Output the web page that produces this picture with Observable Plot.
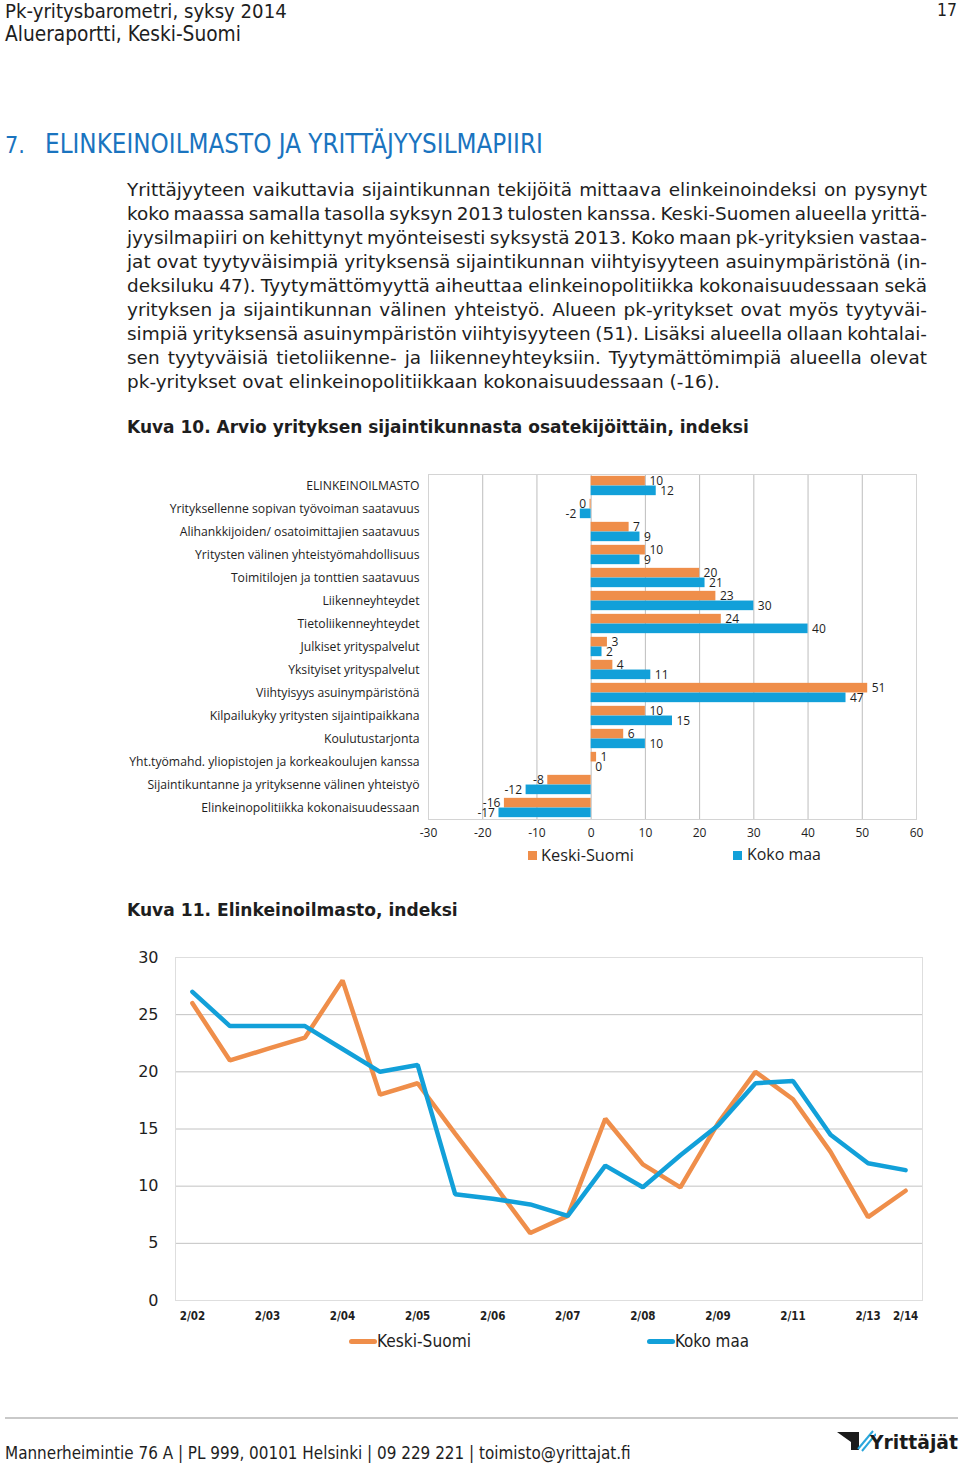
<!DOCTYPE html>
<html><head><meta charset="utf-8">
<script src="https://cdn.jsdelivr.net/npm/d3@7"></script>
<script src="https://cdn.jsdelivr.net/npm/@observablehq/plot@0.6"></script>
<style>
html,body{margin:0;padding:0;background:#fff;}
body{width:960px;height:1466px;position:relative;overflow:hidden;font-family:"DejaVu Sans",sans-serif;color:#1e1e1e;}
.chart{position:absolute;left:0;}
</style></head><body>
<script>
// ---------- DATA ----------
const barCategories = [
  "ELINKEINOILMASTO",
  "Yrityksellenne sopivan työvoiman saatavuus",
  "Alihankkijoiden/ osatoimittajien saatavuus",
  "Yritysten välinen yhteistyömahdollisuus",
  "Toimitilojen ja tonttien saatavuus",
  "Liikenneyhteydet",
  "Tietoliikenneyhteydet",
  "Julkiset yrityspalvelut",
  "Yksityiset yrityspalvelut",
  "Viihtyisyys asuinympäristönä",
  "Kilpailukyky yritysten sijaintipaikkana",
  "Koulutustarjonta",
  "Yht.työmahd. yliopistojen ja korkeakoulujen kanssa",
  "Sijaintikuntanne ja yrityksenne välinen yhteistyö",
  "Elinkeinopolitiikka kokonaisuudessaan"
];
const barKeskiSuomi = [10, -0.2, 7, 10, 20, 23, 24, 3, 4, 51, 10, 6, 1, -8, -16];
const barKokoMaa    = [12, -2, 9, 9, 21, 30, 40, 2, 11, 47, 15, 10, 0, -12, -17];
const barTicks = [-30, -20, -10, 0, 10, 20, 30, 40, 50, 60];

const linePeriods = ["2/02","9/02","2/03","9/03","2/04","9/04","2/05","9/05","2/06","9/06",
                     "2/07","9/07","2/08","9/08","2/09","9/09","2/11","9/11","2/13","2/14"];
const lineTickLabels = ["2/02","2/03","2/04","2/05","2/06","2/07","2/08","2/09","2/11","2/13","2/14"];
const lineKeskiSuomi = [26, 21, 22, 23, 28, 18, 19, 14.6, 10.3, 5.9, 7.4, 15.9, 11.9, 9.9, 15.5, 20, 17.6, 13, 7.3, 9.6];
const lineKokoMaa    = [27, 24, 24, 24, 22, 20, 20.6, 9.3, 8.9, 8.4, 7.4, 11.8, 9.9, 12.7, 15.3, 19.0, 19.2, 14.5, 12.0, 11.4];
const lineYTicks = [0, 5, 10, 15, 20, 25, 30];

const seriesNames = ["Keski-Suomi", "Koko maa"];
const ORANGE = "#ef8e4a", BLUE = "#12a0d9";

const bodyLines = [
  "Yrittäjyyteen vaikuttavia sijaintikunnan tekijöitä mittaava elinkeinoindeksi on pysynyt",
  "koko maassa samalla tasolla syksyn 2013 tulosten kanssa. Keski-Suomen alueella yrittä-",
  "jyysilmapiiri on kehittynyt myönteisesti syksystä 2013. Koko maan pk-yrityksien vastaa-",
  "jat ovat tyytyväisimpiä yrityksensä sijaintikunnan viihtyisyyteen asuinympäristönä (in-",
  "deksiluku 47). Tyytymättömyyttä aiheuttaa elinkeinopolitiikka kokonaisuudessaan sekä",
  "yrityksen ja sijaintikunnan välinen yhteistyö. Alueen pk-yritykset ovat myös tyytyväi-",
  "simpiä yrityksensä asuinympäristön viihtyisyyteen (51). Lisäksi alueella ollaan kohtalai-",
  "sen tyytyväisiä tietoliikenne- ja liikenneyhteyksiin. Tyytymättömimpiä alueella olevat",
  "pk-yritykset ovat elinkeinopolitiikkaan kokonaisuudessaan (-16)."
];

// ---------- TEXT HELPERS ----------
const page = document.body;
const COND = '"DejaVu Sans Condensed","Liberation Sans Narrow","DejaVu Sans",sans-serif';
const SANS = '"DejaVu Sans",sans-serif';
function place(text, {x, y, size = 16, family = SANS, weight = "normal", color = "#1e1e1e", fit, stretch = "normal"}) {
  const s = document.createElement("span");
  s.textContent = text;
  s.style.cssText = `position:absolute;white-space:nowrap;left:${x}px;font-family:${family};font-weight:${weight};color:${color};line-height:1;font-stretch:${stretch};`;
  s.style.fontSize = size + "px";
  page.appendChild(s);
  if (fit) {
    const w = s.getBoundingClientRect().width;
    size = size * fit / w;
    s.style.fontSize = size + "px";
  }
  s.style.top = (y - size * 0.52) + "px";
  return s;
}

// Header
place("Pk-yritysbarometri, syksy 2014", {x: 5, y: 11, size: 20, family: COND, stretch: "condensed", fit: 282});
place("Alueraportti, Keski-Suomi", {x: 5, y: 35, size: 20, family: COND, stretch: "condensed", fit: 236});
place("17", {x: 937, y: 11, size: 20, family: COND, stretch: "condensed", fit: 20});

// Heading
place("7.", {x: 5, y: 145, size: 22, family: COND, stretch: "condensed", color: "#1a74bf", fit: 20});
place("ELINKEINOILMASTO JA YRITTÄJYYSILMAPIIRI", {x: 45, y: 145, size: 22, family: COND, stretch: "condensed", color: "#1a74bf", fit: 498});

// Body paragraph (justified lines)
const BODY_W = 800;
const bodySpans = bodyLines.map((t, i) => place(t, {x: 127, y: 191 + 24 * i, size: 18}));
// size so the un-justified last line matches its width in the page (~593px)
const lastW = bodySpans[bodySpans.length - 1].getBoundingClientRect().width;
const BODY_SIZE = Math.min(18 * 593 / lastW, 18.6);
bodySpans.forEach((s, i) => {
  s.style.fontSize = BODY_SIZE + "px";
  s.style.top = (191 + 24 * i - BODY_SIZE * 0.52) + "px";
  if (i < bodySpans.length - 1) {
    const w = s.getBoundingClientRect().width;
    const spaces = (bodyLines[i].match(/ /g) || []).length;
    s.style.wordSpacing = ((BODY_W - w) / spaces) + "px";
  }
});

place("Kuva 10. Arvio yrityksen sijaintikunnasta osatekijöittäin, indeksi", {x: 127, y: 428, size: 18, weight: "bold", fit: 622});
place("Kuva 11. Elinkeinoilmasto, indeksi", {x: 127, y: 911, size: 18, weight: "bold", fit: 331});

// ---------- BAR CHART ----------
const barRows = barCategories.flatMap((c, i) => [
  {cat: c, series: seriesNames[0], value: barKeskiSuomi[i]},
  {cat: c, series: seriesNames[1], value: barKokoMaa[i]}
]);
const ksRows = barRows.filter(d => d.series === seriesNames[0]);
const kmRows = barRows.filter(d => d.series === seriesNames[1]);
const lbl = d => String(Math.round(d.value));
const LBL_FONT = 12;

const barChart = Plot.plot({
  width: 960, height: 380,
  marginLeft: 428, marginRight: 44, marginTop: 9, marginBottom: 26,
  style: {fontFamily: '"Open Sans",sans-serif', color: "#1e1e1e", background: "transparent", overflow: "visible"},
  x: {domain: [-30, 60]},
  y: {domain: barCategories, paddingInner: 0.16, paddingOuter: 0.08, round: false},
  marks: [
    Plot.ruleX(barTicks, {stroke: "#bdbdbd", strokeWidth: 1}),
    Plot.frame({stroke: "#d4d4d4"}),
    Plot.barX(ksRows, {x: "value", y: "cat", fill: ORANGE, insetBottom: 9.7}),
    Plot.barX(kmRows, {x: "value", y: "cat", fill: BLUE, insetTop: 9.7}),
    Plot.text(ksRows.filter(d => d.value >= 0), {x: "value", y: "cat", text: lbl, textAnchor: "start", dx: 4, dy: -5, fontSize: LBL_FONT, fill: "#1e1e1e"}),
    Plot.text(ksRows.filter(d => d.value < 0), {x: "value", y: "cat", text: lbl, textAnchor: "end", dx: -4, dy: -5, fontSize: LBL_FONT, fill: "#1e1e1e"}),
    Plot.text(kmRows.filter(d => d.value >= 0), {x: "value", y: "cat", text: lbl, textAnchor: "start", dx: 4, dy: 5, fontSize: LBL_FONT, fill: "#1e1e1e"}),
    Plot.text(kmRows.filter(d => d.value < 0), {x: "value", y: "cat", text: lbl, textAnchor: "end", dx: -4, dy: 5, fontSize: LBL_FONT, fill: "#1e1e1e"}),
    Plot.axisX({ticks: barTicks, tickSize: 0, tickPadding: 9, fontSize: 12, label: null, tickFormat: d => String(d)}),
    Plot.axisY({tickSize: 0, tickPadding: 9, fontSize: 12.2, label: null})
  ]
});
const barWrap = document.createElement("div");
barWrap.className = "chart";
barWrap.style.top = "465px";
barWrap.appendChild(barChart);
page.appendChild(barWrap);

// bar legend
function swatch(x, y, w, h, color, radius = 0) {
  const d = document.createElement("div");
  d.style.cssText = `position:absolute;left:${x}px;top:${y}px;width:${w}px;height:${h}px;background:${color};border-radius:${radius}px;`;
  page.appendChild(d);
}
swatch(528, 851, 9, 9, ORANGE);
place(seriesNames[0], {x: 541, y: 855, size: 16, family: '"Open Sans",sans-serif', fit: 93});
swatch(733, 851, 9, 9, BLUE);
place(seriesNames[1], {x: 747, y: 855, size: 16, family: '"Open Sans",sans-serif', fit: 74});

// ---------- LINE CHART ----------
const lineRows = linePeriods.flatMap((p, i) => [
  {period: p, series: seriesNames[0], value: lineKeskiSuomi[i]},
  {period: p, series: seriesNames[1], value: lineKokoMaa[i]}
]);
const lineChart = Plot.plot({
  width: 960, height: 385,
  marginLeft: 175, marginRight: 38, marginTop: 12, marginBottom: 30,
  style: {fontFamily: SANS, color: "#1e1e1e", background: "transparent", overflow: "visible"},
  x: {type: "point", domain: linePeriods, padding: 0.45, round: false},
  y: {domain: [0, 30]},
  marks: [
    Plot.ruleY(lineYTicks, {stroke: "#c2c2c2"}),
    Plot.frame({stroke: "#dedede"}),
    Plot.line(lineRows.filter(d => d.series === seriesNames[0]), {x: "period", y: "value", stroke: ORANGE, strokeWidth: 4.5, strokeLinejoin: "miter"}),
    Plot.line(lineRows.filter(d => d.series === seriesNames[1]), {x: "period", y: "value", stroke: BLUE, strokeWidth: 4.5, strokeLinejoin: "miter"}),
    Plot.axisY({ticks: lineYTicks, tickSize: 0, tickPadding: 17, fontSize: 16, label: null}),
    Plot.axisX({ticks: lineTickLabels, tickSize: 0, tickPadding: 11, fontSize: 11.5, fontWeight: 600, label: null, fontFamily: COND})
  ]
});
const lineWrap = document.createElement("div");
lineWrap.className = "chart";
lineWrap.style.top = "945px";
lineWrap.appendChild(lineChart);
page.appendChild(lineWrap);

// line legend
swatch(349, 1339, 28, 5, ORANGE, 3);
place(seriesNames[0], {x: 377, y: 1342, size: 16, family: COND, stretch: "condensed", fit: 94});
swatch(647, 1339, 28, 5, BLUE, 3);
place(seriesNames[1], {x: 675, y: 1342, size: 16, family: COND, stretch: "condensed", fit: 74});

// ---------- FOOTER ----------
swatch(5, 1417, 953, 2, "#c9c9c9");
place("Mannerheimintie 76 A | PL 999, 00101 Helsinki | 09 229 221 | toimisto@yrittajat.fi", {x: 5, y: 1454, size: 18, family: COND, stretch: "condensed", fit: 626});
const logo = document.createElementNS("http://www.w3.org/2000/svg", "svg");
logo.setAttribute("width", "42"); logo.setAttribute("height", "26");
logo.style.cssText = "position:absolute;left:834px;top:1428px;";
logo.innerHTML = '<polygon points="3,4 25,4 25,22 17,22 17,14" fill="#1b1b1b"/>' +
  '<line x1="24" y1="21" x2="39" y2="3" stroke="#2aa6dc" stroke-width="2"/>' +
  '<line x1="28" y1="23" x2="42" y2="6" stroke="#2aa6dc" stroke-width="2"/>';
page.appendChild(logo);
place("Yrittäjät", {x: 870, y: 1444, size: 22, weight: "bold", fit: 88, color: "#1b1b1b"});
</script>
</body></html>
